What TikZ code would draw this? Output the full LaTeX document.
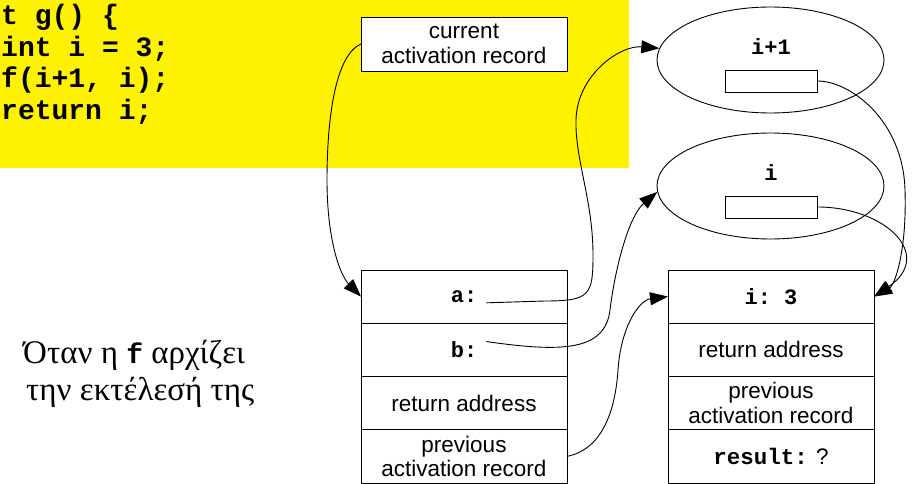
\documentclass[tikz,border=0pt]{standalone}
\usepackage{fontspec}
\setmainfont{Liberation Serif}
\setsansfont{Liberation Sans}
\setmonofont{Liberation Mono}
\usetikzlibrary{positioning,shapes.geometric,arrows.meta}

\begin{document}
\begin{tikzpicture}[x=1pt,y=-1pt,
    rec/.style={draw, fill=white, line width=0.9pt, minimum width=206pt,
      minimum height=53.25pt, inner sep=0pt, outer sep=0pt, align=center,
      font=\sffamily\fontsize{22.5}{24.5}\selectfont},
    var/.style={ellipse, draw, line width=0.9pt, minimum width=227pt, minimum height=106pt},
    slot/.style={draw, fill=white, line width=0.9pt, minimum width=92pt,
      minimum height=22pt, inner sep=0pt},
    mono/.style={font=\ttfamily\bfseries\fontsize{22}{24.5}\selectfont},
    code/.style={anchor=base west, inner sep=0pt,
      font=\ttfamily\bfseries\fontsize{28}{32}\selectfont},
    ptr/.style={line width=0.9pt, -{Triangle[length=18pt,width=13pt]}}]
  \useasboundingbox (0,0) rectangle (919,484);

  % Code of g
  \fill[yellow] (0,0) rectangle (629,168);
  \node[code] (g1) at (1,25) {t g() \{};
  \node[code] (g2) at (1,57) {int i = 3;};
  \node[code] (g3) at (1,88) {f(i+1, i);};
  \node[code] (g4) at (1,120) {return i;};

  % Current activation record
  \node[rec, minimum height=54pt] (cur) at (464,44) {current\\activation record};

  % Activation record of f
  \node[rec] (fa) at (464,296.6) {};
  \node[rec, below=0pt of fa] (fb) {};
  \node[rec, below=0pt of fb] (fret) {return address};
  \node[rec, below=0pt of fret] (fprev) {previous\\activation record};
  \node[mono, inner xsep=9pt, inner ysep=0pt] (va) at (fa.center) {a:};
  \node[mono, inner xsep=9pt, inner ysep=0pt] (vb) at (fb.center) {b:};

  % Activation record of g
  \node[rec, mono] (gi) at (771,296.6) {i: 3};
  \node[rec, below=0pt of gi] (gret) {return address};
  \node[rec, below=0pt of gret] (gprev) {previous\\activation record};
  \node[rec, below=0pt of gprev] (gres) {{\ttfamily\bfseries result:} ?};

  % Parameters
  \node[var] (e1) at (770.5,60) {};
  \node[mono] (n1) at (771,47) {i+1};
  \node[slot] (s1) at (771,81) {};
  \node[var] (e2) at (770.5,186) {};
  \node[mono] (n2) at (771,173) {i};
  \node[slot] (s2) at (771,207) {};

  % Caption
  \node[anchor=base west, inner sep=0pt, font=\fontsize{33}{37}\selectfont] (t1) at (23,363)
    {Όταν η {\ttfamily\bfseries\fontsize{28}{30}\selectfont f} αρχίζει};
  \node[anchor=base west, inner sep=0pt, font=\fontsize{33}{37}\selectfont] (t2) at (26,400)
    {την εκτέλεσή της};

  % Pointers
  \draw[ptr] (cur.west) .. controls (335,55) and (327,120) .. (327,180)
    .. controls (327,240) and (340,275) .. (fa.west);
  \draw[ptr] (va.south east) -- (545,301) .. controls (590,301) and (593,295) .. (593,255)
    .. controls (593,200) and (575,160) .. (576,120)
    .. controls (577,75) and (620,45) .. (e1.174);
  \draw[ptr] (vb.north east) .. controls (560,352) and (605,352) .. (610,310)
    .. controls (616,262) and (630,215) .. (e2.183);
  \draw[ptr] (fprev.east) .. controls (600,450) and (615,415) .. (618,370)
    .. controls (621,325) and (640,300) .. (gi.west);
  \draw[ptr] (s1.east) .. controls (850,81) and (903,120) .. (905,190)
    .. controls (907,250) and (895,285) .. (gi.east);
  \draw[ptr] (s2.east) .. controls (885,207) and (935,255) .. (gi.east);
\end{tikzpicture}
\end{document}
